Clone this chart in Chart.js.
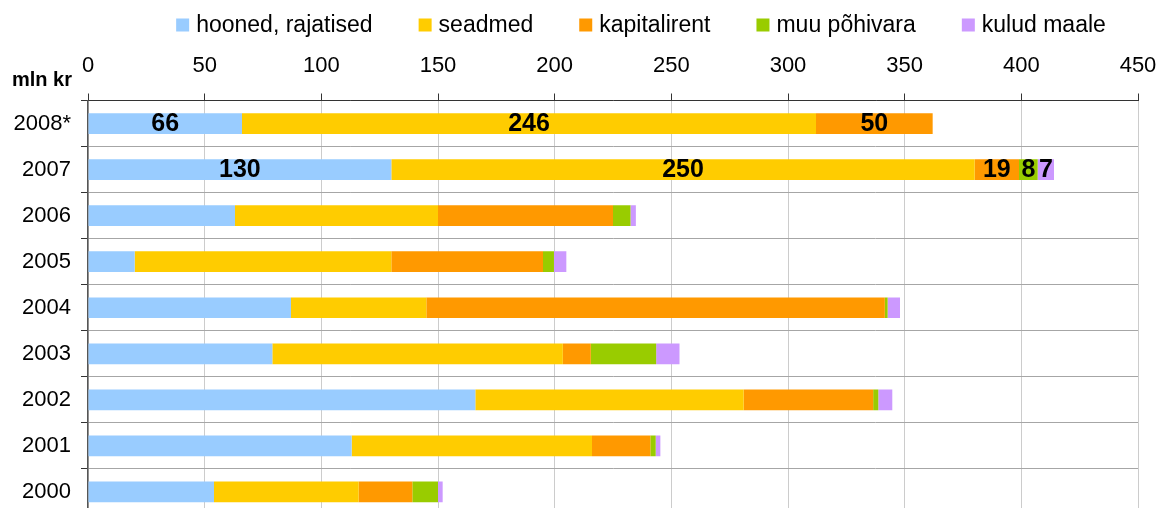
<!DOCTYPE html>
<html>
<head>
<meta charset="utf-8">
<script src="https://cdn.jsdelivr.net/npm/chart.js@4.4.1/dist/chart.umd.min.js"></script>
<style>
    html, body { margin: 0; padding: 0; background: #fff; overflow: hidden; }
    #chart-investeeringud { display: block; width: 1160px; height: 515px; }
</style>
</head>
<body>
<canvas id="chart-investeeringud" width="1160" height="515"></canvas>
<script>
// aastad (ülevalt alla)
const aastad = ['2008*', '2007', '2006', '2005', '2004', '2003', '2002', '2001', '2000'];

// mln kr
const hooned = [66, 130, 63, 20, 87, 79, 166, 113, 54];
const seadmed = [246, 250, 87, 110, 58, 124.5, 115, 103, 62];
const kapitalirent = [50, 19, 75, 65, 196.5, 12, 55.5, 25, 23];
const muuPohivara = [0, 8, 7.5, 4.7, 1.2, 28, 2.2, 2.3, 11];
const kuludMaale = [0, 7, 2.3, 5.3, 5.3, 10, 6, 2, 2];

const xTicks = [0, 50, 100, 150, 200, 250, 300, 350, 400, 450];
const sildigaAastad = ['2008*', '2007'];

const FONT = '"Liberation Sans", Arial, sans-serif';

// legend ülal, joonistatud käsitsi et asukoht klapiks
const topLegend = {
    id: 'topLegend',
    afterDraw(chart) {
        const ctx = chart.ctx;
        const sets = chart.data.datasets;
        ctx.save();
        ctx.font = '23px ' + FONT;
        ctx.textBaseline = 'middle';
        const box = 13, gap = 7, between = 46;
        const widths = sets.map(ds => box + gap + ctx.measureText(ds.label).width);
        const total = widths.reduce((a, b) => a + b, 0) + between * (sets.length - 1);
        let x = 641 - total / 2;
        const y = 25;
        sets.forEach((ds, i) => {
            ctx.fillStyle = ds.backgroundColor;
            ctx.fillRect(x, y - box / 2, box, box);
            ctx.fillStyle = '#000';
            ctx.textAlign = 'left';
            ctx.fillText(ds.label, x + box + gap, y + 1);
            x += widths[i] + between;
        });

        // ühik
        ctx.font = 'bold 20px ' + FONT;
        ctx.fillText('mln kr', 12, 80);
        ctx.restore();
    }
};

// väärtused tulpadel
const barLabels = {
    id: 'barLabels',
    afterDatasetsDraw(chart) {
        const ctx = chart.ctx;
        ctx.save();
        ctx.font = 'bold 25px ' + FONT;
        ctx.fillStyle = '#000';
        ctx.textAlign = 'center';
        ctx.textBaseline = 'middle';
        chart.data.datasets.forEach((ds, di) => {
            const meta = chart.getDatasetMeta(di);
            meta.data.forEach((el, i) => {
                if (!sildigaAastad.includes(aastad[i])) return;
                const v = ds.data[i];
                if (!v) return;
                const cx = (el.x + el.base) / 2;
                ctx.fillText(Math.round(v), cx, el.y + 1);
            });
        });
        ctx.restore();
    }
};

const ctx = document.getElementById('chart-investeeringud').getContext('2d');

new Chart(ctx, {
    type: 'bar',
    data: {
        labels: aastad,
        datasets: [
            { label: 'hooned, rajatised', data: hooned, backgroundColor: '#99ccff' },
            { label: 'seadmed', data: seadmed, backgroundColor: '#ffcc00' },
            { label: 'kapitalirent', data: kapitalirent, backgroundColor: '#ff9900' },
            { label: 'muu põhivara', data: muuPohivara, backgroundColor: '#99cc00' },
            { label: 'kulud maale', data: kuludMaale, backgroundColor: '#cc99ff' }
        ].map(d => Object.assign(d, { borderWidth: 0, barPercentage: 0.45, categoryPercentage: 1 }))
    },
    options: {
        indexAxis: 'y',
        responsive: false,
        animation: false,
        devicePixelRatio: 1,
        layout: { padding: { left: 0, right: 22, top: 0, bottom: 0 } },
        plugins: {
            legend: { display: false },
            tooltip: { enabled: false }
        },
        scales: {
            x: {
                position: 'top',
                stacked: true,
                min: 0,
                max: 450,
                afterBuildTicks: axis => { axis.ticks = xTicks.map(v => ({ value: v })); },
                afterFit: axis => {
                    axis.height = 100.5;
                    axis.paddingLeft = 0;
                    axis.paddingRight = 0;
                },
                grid: { color: '#cccccc', tickColor: '#333', tickLength: 7 },
                border: { color: '#333', width: 1 },
                ticks: { color: '#000', font: { family: FONT, size: 22 }, padding: 14 }
            },
            y: {
                stacked: true,
                afterFit: axis => {
                    axis.width = 88;
                    axis.paddingTop = 0;
                    axis.paddingBottom = 0;
                },
                grid: { offset: true, color: '#a6a6a6', tickColor: '#333', tickLength: 7 },
                border: { color: '#555', width: 1.5 },
                ticks: { color: '#000', font: { family: FONT, size: 22 }, padding: 10 }
            }
        }
    },
    plugins: [topLegend, barLabels]
});
</script>
</body>
</html>
